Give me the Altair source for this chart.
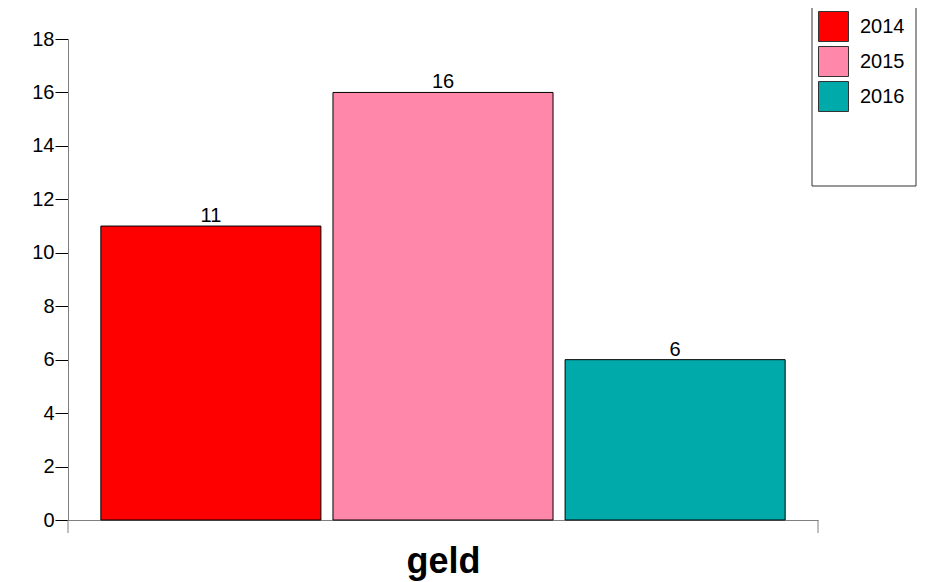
import altair as alt
import pandas as pd

category = "geld"
years = ["2014", "2015", "2016"]
values = [11, 16, 6]
colors = ["#FF0000", "#FF88AA", "#00AAAA"]
y_ticks = [0, 2, 4, 6, 8, 10, 12, 14, 16, 18]

df = pd.DataFrame({"cat": [category] * len(years), "year": years, "value": values})

FONT = "Liberation Sans"
W, H = 750, 481

x_enc = alt.X(
    "cat:N",
    scale=alt.Scale(paddingInner=0, paddingOuter=0.048),
    axis=alt.Axis(
        title=category, labels=False, ticks=False, domain=True,
        domainColor="#808080", titleFontSize=36, titleFontWeight="bold",
        titleFont=FONT, titleColor="#000", titlePadding=24,
    ),
)
xoff_enc = alt.XOffset("year:N", scale=alt.Scale(paddingInner=0.052, paddingOuter=0))
y_enc = alt.Y(
    "value:Q",
    scale=alt.Scale(domain=[0, 18], nice=False),
    axis=alt.Axis(
        title=None, values=y_ticks, grid=False, tickSize=13, tickColor="#000",
        domainColor="#808080", labelFontSize=20, labelFont=FONT, labelColor="#000",
        labelPadding=1,
    ),
)
color_enc = alt.Color(
    "year:N",
    scale=alt.Scale(domain=years, range=colors),
    legend=alt.Legend(
        title=None, orient="none", legendX=750, legendY=-28, symbolType="square",
        symbolSize=900, symbolStrokeColor="#333", symbolStrokeWidth=1,
        labelFontSize=20, labelFont=FONT, labelColor="#000", labelOffset=11,
        rowPadding=0, padding=0,
    ),
)

base = alt.Chart(df)
bars = base.mark_bar(stroke="#000", strokeWidth=1, opacity=1).encode(
    x=x_enc, xOffset=xoff_enc, y=y_enc, color=color_enc
)
labels = base.mark_text(baseline="bottom", dy=0, fontSize=20, font=FONT, color="#000").encode(
    x=alt.X("cat:N"), xOffset="year:N", y="value:Q", text="value:Q"
)

one = alt.Data(values=[{}])
legend_box = alt.Chart(one).mark_rect(fill="white", stroke="#333", strokeWidth=1).encode(
    x=alt.value(744), x2=alt.value(848), y=alt.value(-33), y2=alt.value(147)
)
tick_right = alt.Chart(one).mark_rule(color="#808080").encode(
    x=alt.value(W), y=alt.value(H), y2=alt.value(H + 13)
)
tick_left = alt.Chart(one).mark_rule(color="#808080").encode(
    x=alt.value(0), y=alt.value(H), y2=alt.value(H + 13)
)

chart = alt.layer(legend_box, bars, labels, tick_left, tick_right).properties(
    width=W, height=H,
    background="white",
    autosize=alt.AutoSizeParams(type="none"),
    padding={"left": 60, "top": 31, "right": 110, "bottom": 62},
).configure_view(strokeWidth=0, stroke="transparent")

chart.save("out.html", embed_options={"renderer": "svg", "actions": False})
